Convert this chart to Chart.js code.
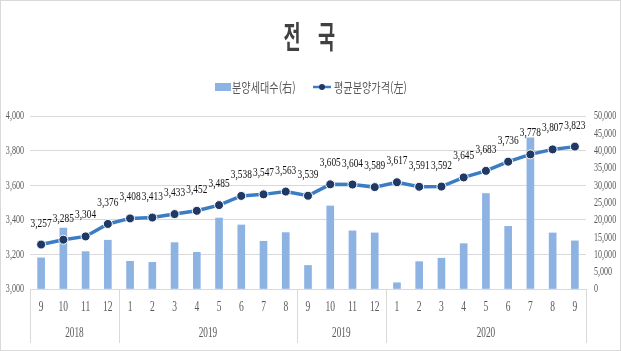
<!DOCTYPE html>
<html>
<head>
<meta charset="utf-8">
<script src="https://cdn.jsdelivr.net/npm/chart.js@4"></script>
<style>
  html, body { margin: 0; padding: 0; background: #fff; }
  #wrap { width: 621px; height: 351px; position: relative; }
</style>
</head>
<body>
<div id="wrap"><canvas id="c" width="621" height="351"></canvas></div>
<script>
// 월 라벨 (2018.9 ~ 2020.9)
var MONTHS = ['9','10','11','12','1','2','3','4','5','6','7','8','9','10','11','12','1','2','3','4','5','6','7','8','9'];
var YEAR_LABELS = ['2018', '2019', '2019', '2020'];
var YEAR_SPANS = [4, 8, 4, 9];
// 평균분양가격(左)
var PRICE = [3257, 3285, 3304, 3376, 3408, 3413, 3433, 3452, 3485, 3538, 3547, 3563, 3539,
  3605, 3604, 3589, 3617, 3591, 3592, 3645, 3683, 3736, 3778, 3807, 3823];
// 분양세대수(右)
var UNITS = [9000, 17600, 10800, 14100, 8000, 7700, 13400, 10600, 20500, 18500, 13800, 16300, 6800,
  24000, 16800, 16200, 1800, 7900, 8900, 13100, 27600, 18100, 43700, 16200, 13900];

var BAR_COL = '#8db3e2';
var LINE_COL = '#3b7dc4';
var DOT_COL = '#1f3864';
var GRID_COL = '#d9d9d9';
var TXT_COL = '#595959';
var SERIF = '"Liberation Serif", "DejaVu Serif", serif';
var KR = '"Noto Sans CJK KR", "Noto Sans", sans-serif';

function fmt(v) { return Number(v).toLocaleString('en-US'); }

// 좁은 글꼴 흉내: 가로로 눌러서 그림
function squeeze(ctx, txt, x, y, sx, align) {
  ctx.save();
  ctx.translate(x, y);
  ctx.scale(sx, 1);
  ctx.textAlign = align || 'center';
  ctx.fillText(txt, 0, 0);
  ctx.restore();
}

var deco = {
  id: 'deco',
  beforeDraw: function (chart) {
    var ctx = chart.ctx;
    ctx.save();
    ctx.fillStyle = '#fff';
    ctx.fillRect(0, 0, chart.width, chart.height);
    ctx.restore();
  },
  afterDraw: function (chart) {
    var ctx = chart.ctx, x = chart.scales.x, y = chart.scales.y, y2 = chart.scales.y2;
    var area = chart.chartArea;
    ctx.save();
    ctx.textBaseline = 'middle';

    // 제목
    ctx.fillStyle = '#404040';
    ctx.font = 'bold 31px ' + KR;
    ctx.letterSpacing = '11px';
    squeeze(ctx, '전 국', 283.5, 36, 0.6, 'left');
    ctx.letterSpacing = '0px';

    // 범례
    ctx.fillStyle = BAR_COL;
    ctx.fillRect(215, 83, 16, 8);
    ctx.font = '13px ' + KR;
    ctx.fillStyle = TXT_COL;
    squeeze(ctx, '분양세대수(右)', 232, 87, 0.78, 'left');
    ctx.strokeStyle = LINE_COL;
    ctx.lineWidth = 2.5;
    ctx.beginPath(); ctx.moveTo(313, 87); ctx.lineTo(331, 87); ctx.stroke();
    ctx.fillStyle = DOT_COL;
    ctx.beginPath(); ctx.arc(322, 87, 3, 0, Math.PI * 2); ctx.fill();
    ctx.fillStyle = TXT_COL;
    squeeze(ctx, '평균분양가격(左)', 334, 87, 0.78, 'left');

    // 눈금 라벨
    ctx.font = '13px ' + SERIF;
    y.ticks.forEach(function (t, i) {
      squeeze(ctx, fmt(t.value), 24, y.getPixelForTick(i), 0.62, 'right');
    });
    y2.ticks.forEach(function (t, i) {
      squeeze(ctx, fmt(t.value), 594, y2.getPixelForTick(i), 0.62, 'left');
    });
    ctx.font = '14px ' + SERIF;
    MONTHS.forEach(function (m, i) {
      squeeze(ctx, m, x.getPixelForValue(i), 307, 0.68);
    });

    // 연도 그룹
    var cw = (x.right - x.left) / MONTHS.length;
    var start = 0;
    var bounds = [x.left];
    YEAR_SPANS.forEach(function (n, i) {
      var l = x.getPixelForValue(start) - cw / 2;
      var r = x.getPixelForValue(start + n - 1) + cw / 2;
      bounds.push(r);
      squeeze(ctx, YEAR_LABELS[i], (l + r) / 2, 333, 0.66);
      start += n;
    });
    ctx.strokeStyle = GRID_COL;
    ctx.lineWidth = 1;
    bounds.forEach(function (b) {
      var px = Math.round(b) + 0.5;
      ctx.beginPath(); ctx.moveTo(px, area.bottom); ctx.lineTo(px, 343); ctx.stroke();
    });

    // 데이터 라벨
    var meta = chart.getDatasetMeta(1);
    ctx.fillStyle = '#111';
    ctx.font = '13px ' + SERIF;
    ctx.textBaseline = 'alphabetic';
    meta.data.forEach(function (pt, i) {
      squeeze(ctx, fmt(PRICE[i]), pt.x, pt.y - 18, 0.72);
    });

    // 테두리
    ctx.strokeStyle = GRID_COL;
    ctx.strokeRect(0.5, 0.5, chart.width - 1, chart.height - 1);
    ctx.restore();
  }
};

new Chart(document.getElementById('c').getContext('2d'), {
  data: {
    labels: MONTHS,
    datasets: [
      { type: 'bar', label: '분양세대수(右)', data: UNITS, yAxisID: 'y2', backgroundColor: BAR_COL,
        barThickness: 7, order: 2 },
      { type: 'line', label: '평균분양가격(左)', data: PRICE, yAxisID: 'y', borderColor: LINE_COL,
        borderWidth: 3.5, pointRadius: 4.5, pointBackgroundColor: DOT_COL, pointBorderColor: '#fff',
        pointBorderWidth: 1, tension: 0, order: 1 }
    ]
  },
  options: {
    responsive: false,
    animation: false,
    layout: { padding: { top: 116, left: 0, right: 0, bottom: 0 } },
    plugins: { legend: { display: false }, title: { display: false }, tooltip: { enabled: false } },
    scales: {
      x: {
        offset: true,
        grid: { display: false },
        border: { color: GRID_COL },
        ticks: { display: false, autoSkip: false },
        afterFit: function (s) { s.height = 62; }
      },
      y: {
        position: 'left', min: 3000, max: 4000,
        grid: { color: GRID_COL, drawTicks: false },
        border: { display: false },
        ticks: { display: false, stepSize: 200 },
        afterFit: function (s) { s.width = 30; }
      },
      y2: {
        position: 'right', min: 0, max: 50000,
        grid: { drawOnChartArea: false, drawTicks: false },
        border: { display: false },
        ticks: { display: false, stepSize: 5000 },
        afterFit: function (s) { s.width = 35; }
      }
    }
  },
  plugins: [deco]
});
</script>
</body>
</html>
